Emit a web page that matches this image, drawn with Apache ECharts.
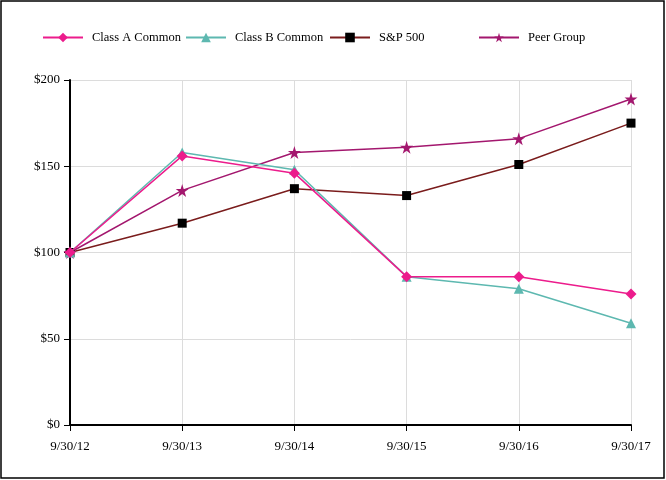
<!DOCTYPE html>
<html><head><meta charset="utf-8">
<script src="https://cdn.jsdelivr.net/npm/echarts@6/dist/echarts.min.js"></script>
<style>html,body{margin:0;padding:0;background:#fff}#c{width:666px;height:480px}</style>
</head><body><div id="c"></div>
<script>
const categories = ['9/30/12','9/30/13','9/30/14','9/30/15','9/30/16','9/30/17'];
const classA = [100, 156, 146, 86, 86, 76];
const classB = [100, 158, 148, 86, 79, 59];
const sp500 = [100, 117, 137, 133, 151, 175];
const peer = [100, 136, 158, 161, 166, 189];
const yTicks = [0, 50, 100, 150, 200];

const font = 'Liberation Serif';
const chart = echarts.init(document.getElementById('c'));
function leg(name, left){
  return {show:true, data:[name], left:left, top:31, padding:0, itemWidth:40, itemHeight:12, itemGap:0,
    textStyle:{fontFamily:font, fontSize:12.5, color:'#000', padding:[0,0,0,4]}};
}
chart.setOption({
  animation:false,
  backgroundColor:'#fff',
  graphic:[{type:'rect', shape:{x:1,y:1,width:663,height:477}, style:{fill:'none', stroke:'#000', lineWidth:1.5}, z:100}],
  legend:[leg('Class A Common',42), leg('Class B Common',185), leg('S&P 500',329), leg('Peer Group',478)],
  grid:{left:70, right:35, top:80, bottom:55},
  xAxis:{type:'category', data:categories, boundaryGap:false,
    axisLine:{lineStyle:{color:'#000', width:2}},
    axisTick:{show:true, alignWithLabel:true, length:6, lineStyle:{color:'#000'}},
    axisLabel:{fontFamily:font, fontSize:13, color:'#000', margin:15},
    splitLine:{show:true, lineStyle:{color:'#dcdcdc'}}},
  yAxis:{type:'value', min:0, max:200, interval:50,
    axisLine:{show:true, lineStyle:{color:'#000', width:2}},
    axisTick:{show:true, length:6, lineStyle:{color:'#000'}},
    axisLabel:{fontFamily:font, fontSize:13, color:'#000', margin:10, formatter:v=>'$'+v},
    splitLine:{show:true, lineStyle:{color:'#dcdcdc'}}},
  series:[
    {name:'Class A Common', type:'line', data:classA, symbol:'diamond', symbolSize:11,
      itemStyle:{color:'#ec1c8c'}, lineStyle:{color:'#ec1c8c', width:1.5}, z:5},
    {name:'Class B Common', type:'line', data:classB, symbol:'triangle', symbolSize:10,
      itemStyle:{color:'#5db8b0'}, lineStyle:{color:'#5db8b0', width:1.5}, z:4},
    {name:'S&P 500', type:'line', data:sp500, symbol:'rect', symbolSize:9,
      itemStyle:{color:'#000'}, lineStyle:{color:'#7a1c1c', width:1.5}, z:3},
    {name:'Peer Group', type:'line', data:peer, symbol:'path://M50,0 L61,35 L98,35 L68,57 L79,91 L50,70 L21,91 L32,57 L2,35 L39,35 Z', symbolSize:13,
      itemStyle:{color:'#a3176e'}, lineStyle:{color:'#a3176e', width:1.5}, z:3}
  ]
});
</script></body></html>
